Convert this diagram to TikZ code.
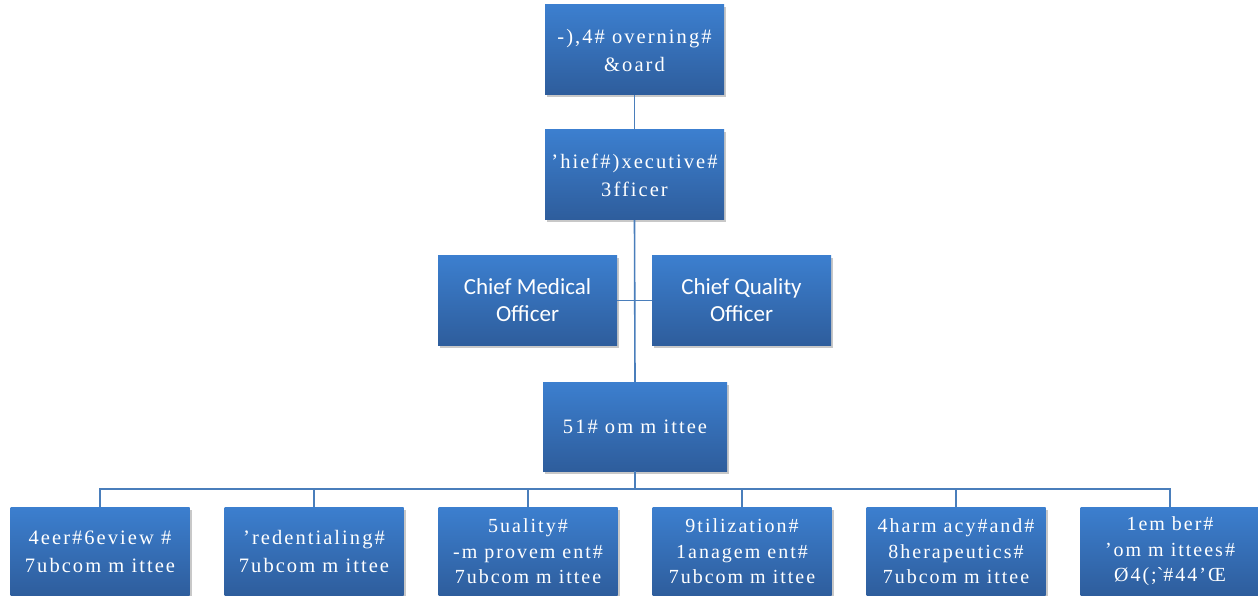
\documentclass[tikz,border=0pt]{standalone}
\usepackage{fontspec}
\setmainfont{Liberation Serif}
\newfontfamily\garb[LetterSpace=10]{Liberation Serif}
\newfontfamily\calib{Carlito}
\usetikzlibrary{shadows}
\definecolor{boxtop}{HTML}{3C7FCF}
\definecolor{boxbot}{HTML}{2E5D9C}
\definecolor{linec}{HTML}{4A7EBB}
\begin{document}
\begin{tikzpicture}[x=1pt,y=-1pt,
  box/.style={rectangle, minimum width=179pt, minimum height=90pt, inner sep=0pt,
    top color=boxtop, bottom color=boxbot, draw=none, text=white, align=center,
    drop shadow={shadow xshift=2pt, shadow yshift=-2.5pt, opacity=0.3, fill=black!70}},
  gtwo/.style={font=\garb\fontsize{20.5}{28}\selectfont},
  gthree/.style={font=\garb\fontsize{20}{25.5}\selectfont},
  ctwo/.style={font=\calib\fontsize{23}{27}\selectfont},
  conn/.style={draw=linec, line width=1.6pt}]
\fill[white] (0,0) rectangle (1258,596);
\path[use as bounding box] (0,0) rectangle (1258,596);
\clip (0,0) rectangle (1258,596);

\node[box,gtwo] (top) at (634.5,50) {-),4\#~overning\#\\\&oard};
\node[box,gtwo] (ceo) at (634.5,175) {’hief\#)xecutive\#\\3fficer};
\node[box,ctwo] (cmo) at (527.5,300.5) {Chief Medical\\Officer};
\node[box,ctwo] (cqo) at (741.5,300.5) {Chief Quality\\Officer};
\node[box,gtwo,minimum width=184pt,minimum height=89pt] (qm) at (635,426.5) {51\#~om m ittee};

\node[box,gtwo,minimum height=89pt] (b1) at (100,551.5) {4eer\#6eview~\#\\7ubcom m ittee};
\node[box,gtwo,minimum height=89pt] (b2) at (314,551.5) {’redentialing\#\\7ubcom m ittee};
\node[box,gthree,minimum height=89pt] (b3) at (528,551.5) {5uality\#\\-m provem ent\#\\7ubcom m ittee};
\node[box,gthree,minimum height=89pt] (b4) at (742,551.5) {9tilization\#\\1anagem ent\#\\7ubcom m ittee};
\node[box,gthree,minimum height=89pt] (b5) at (956,551.5) {4harm acy\#and\#\\8herapeutics\#\\7ubcom m ittee};
\node[box,gthree,minimum height=89pt] (b6) at (1170,551.5) {1em ber\#\\’om m ittees\#\\Ø4(;\textasciigrave\#44’Œ};

\draw[conn] (top.south) -- (ceo.north);
\draw[conn] (ceo.south) -- (qm.north);
\draw[conn] (cmo.east) -- (cqo.west);
\draw[conn] (qm.south) -- ++(0,18) coordinate (bj);
\foreach \b in {b1,b2,b3,b4,b5,b6} \draw[conn] (bj) -| (\b.north);
\end{tikzpicture}
\end{document}
